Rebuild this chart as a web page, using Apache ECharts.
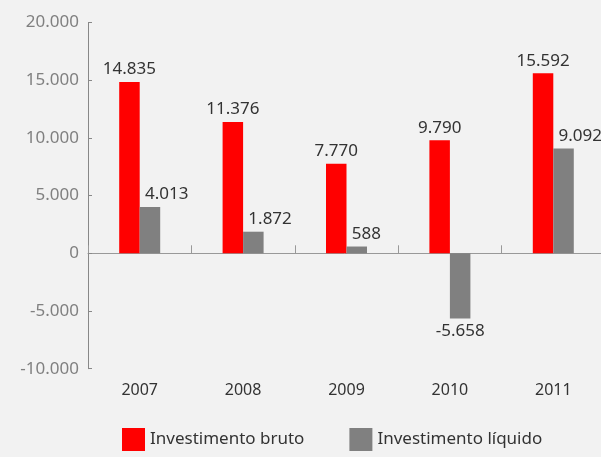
<!DOCTYPE html>
<html>
<head>
<meta charset="utf-8">
<script src="https://cdn.jsdelivr.net/npm/echarts@6/dist/echarts.min.js"></script>
<style>
    html, body { margin: 0; padding: 0; background: #f2f2f2; }
    #chart-container { width: 601px; height: 457px; }
</style>
</head>
<body>
<div id="chart-container"></div>
<script>
// chart data
const years = ['2007', '2008', '2009', '2010', '2011'];
const investBruto = [14835, 11376, 7770, 9790, 15592];
const investLiquido = [4013, 1872, 588, -5658, 9092];
const seriesNames = ['Investimento bruto', 'Investimento líquido'];

// 12345 -> "12.345"
function fmt(v) {
    const s = Math.abs(v).toString().replace(/\B(?=(\d{3})+(?!\d))/g, '.');
    return (v < 0 ? '-' : '') + s;
}

const FONT = '"Noto Sans", "Open Sans", sans-serif';

let myChart = echarts.init(document.getElementById('chart-container'));

let labelBase = {
    show: true,
    position: 'top',
    distance: 4,
    color: '#333',
    fontSize: 17,
    fontFamily: FONT,
    formatter: (p) => fmt(p.value)
};

let option = {
    backgroundColor: '#f2f2f2',
    animation: false,
    grid: { left: 88, right: -4, top: 22.5, bottom: 88.3, outerBoundsMode: 'none', containLabel: false },
    legend: {
        data: seriesNames,
        left: 122,
        top: 428,
        padding: 0,
        icon: 'rect',
        itemWidth: 23,
        itemHeight: 23,
        itemGap: 45,
        textStyle: { color: '#333', fontSize: 17, fontFamily: FONT }
    },
    xAxis: [
        {
            // year labels along the bottom of the plot
            type: 'category',
            data: years,
            position: 'bottom',
            axisLine: { show: false, onZero: false },
            axisTick: { show: false },
            axisLabel: { margin: 14, color: '#333', fontSize: 16, fontFamily: FONT }
        },
        {
            // zero line with upward ticks
            type: 'category',
            data: years,
            position: 'top',
            axisLine: { show: true, onZero: true, lineStyle: { color: '#999', width: 1 } },
            axisTick: { show: true, inside: false, length: 8, lineStyle: { color: '#999' } },
            axisLabel: { show: false }
        }
    ],
    yAxis: {
        type: 'value',
        min: -10000,
        max: 20000,
        interval: 5000,
        splitLine: { show: false },
        axisLine: { show: true, lineStyle: { color: '#888' } },
        axisTick: { show: true, inside: true, length: 4, lineStyle: { color: '#888' } },
        axisLabel: {
            margin: 9,
            color: '#808080',
            fontSize: 17,
            fontFamily: FONT,
            formatter: (v) => fmt(v)
        }
    },
    series: [
        {
            name: seriesNames[0],
            type: 'bar',
            data: investBruto,
            barWidth: 20.5,
            barGap: '0%',
            itemStyle: { color: '#ff0000' },
            label: labelBase
        },
        {
            name: seriesNames[1],
            type: 'bar',
            // positive labels sit left-aligned near bar's left edge, negative one below
            data: investLiquido.map(v => v < 0
                ? { value: v, label: { position: 'bottom', align: 'center', offset: [0, 0] } }
                : v),
            barWidth: 20.5,
            itemStyle: { color: '#808080' },
            label: Object.assign({}, labelBase, { align: 'left', offset: [-5, 0] })
        }
    ]
};

myChart.setOption(option);
</script>
</body>
</html>
